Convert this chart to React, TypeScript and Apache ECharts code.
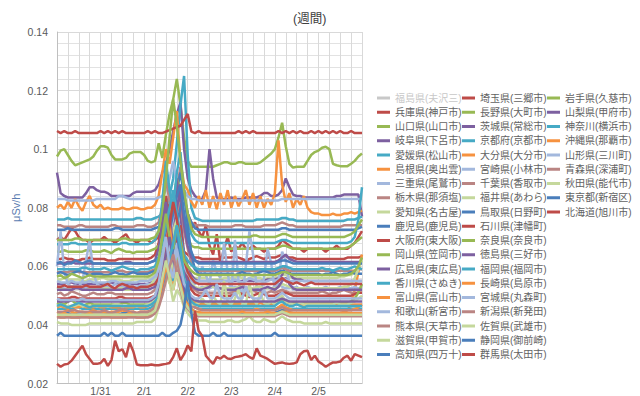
import React, { useEffect, useRef } from 'react';
import * as echarts from 'echarts';

const FONT = "'Liberation Sans', 'Noto Sans CJK JP', sans-serif";

const chartTitle = '(週間)';
const yAxisName = 'μSv/h';
const days = ['1/30', '1/31', '2/1', '2/2', '2/3', '2/4', '2/5', '2/6'];
const hours = ['0:00', '2:00', '4:00', '6:00', '8:00', '10:00', '12:00', '14:00', '16:00', '18:00', '20:00', '22:00'];

const legendCol1 = ['福島県(夫沢三)', '兵庫県(神戸市)', '山口県(山口市)', '岐阜県(下呂市)', '愛媛県(松山市)', '島根県(奥出雲)', '三重県(尾鷲市)', '栃木県(那須塩)', '愛知県(名古屋)', '鹿児島(鹿児島)', '大阪府(東大阪)', '岡山県(笠岡市)', '広島県(東広島)', '香川県(さぬき)', '富山県(富山市)', '和歌山(新宮市)', '熊本県(天草市)', '滋賀県(甲賀市)', '高知県(四万十)'];
const legendCol2 = ['埼玉県(三郷市)', '長野県(大町市)', '茨城県(常総市)', '京都府(京都市)', '大分県(大分市)', '宮崎県(小林市)', '千葉県(香取市)', '福井県(あわら)', '鳥取県(日野町)', '石川県(津幡町)', '奈良県(奈良市)', '徳島県(三好市)', '福岡県(福岡市)', '長崎県(島原市)', '宮城県(丸森町)', '新潟県(新発田)', '佐賀県(武雄市)', '静岡県(御前崎)', '群馬県(太田市)'];
const legendCol3 = ['岩手県(久慈市)', '山梨県(甲府市)', '神奈川(横浜市)', '沖縄県(那覇市)', '山形県(三川町)', '青森県(深浦町)', '秋田県(能代市)', '東京都(新宿区)', '北海道(旭川市)'];
const hiddenSeries = ['福島県(夫沢三)'];

// values in 0.001 μSv/h, every 2 hours from 1/30 0:00 to 2/6 0:00 (one row per day)
const fukushima: number[] = [];
const hyogo = [
  69,70,69,71,73,72,70,69,69,68,69,69,
  69,70,69,69,68,69,70,71,69,69,68,69,
  69,69,68,69,70,74,84,78,72,90,80,74,
  78,73,75,72,70,74,67,64,71,61,66,70,
  65,67,66,68,66,66,67,66,66,65,66,66,
  66,67,69,68,67,66,66,66,65,66,66,66,
  66,66,65,66,66,67,66,66,66,67,68,70,
  72];
const yamaguchi = [
  97.5,99.5,100,98,96,94.5,95,95.5,96,96.5,97.5,99.5,
  101,101,100.5,98,96.5,96.5,96.5,97,98.5,99,99,99,
  98,96,95.5,96,102,97,105,112,117,124,115,104,
  96,94,94,94,94,94,94,94,94.5,95,95.5,95.5,
  95,95,95.5,95.5,95,95,95,95,95.5,96.5,97.5,98.5,
  100,104,109,101,95,93.7,94,94,94,96,98,99,
  99.5,100.5,100.8,100,95,94.5,94.2,94.2,94.2,95,96,97.5,
  98.5];
const gifu = [
  92,85,84,83.5,83.5,83.5,83.5,83.5,85,87,87,86,
  85.5,85.5,85,84,84,84,84,84,84,85,85.5,85.5,
  85.5,85.5,85.5,86,88,92,95,100,106,112,116,100,
  90,86,84,83,83,86,100,90,83.5,83,83,83,
  83.5,83,83,83,83.5,83.5,83.5,83.5,84,85,85,84,
  84,84.5,86,90,87,84.5,84,84,83.5,83.5,83.5,83.5,
  83.5,83.5,83.5,83.5,83.5,84,84,84.5,84.5,84.5,84.5,84.5,
  77];
const ehime = [
  76,76,76,76.5,76,76,76,76,76,76,76,76,
  76,76,76,76,76,76,76,76,76,76,76.5,76.5,
  76,76,76,76.5,77,78,80,84,90,102,115,125,
  98,80,76.5,76,75.5,75.5,75.5,75.5,75.5,75.5,75.5,75.5,
  75.5,75.5,75.5,75.5,75.5,75.5,75.5,76,76,76,76,76,
  76,76,76.5,76.5,76,76,75.5,75.5,75.5,75.5,75.5,75.5,
  75.5,75.5,75.5,75.5,75.5,75.5,75.5,75.5,76,76,76,76.5,
  77];
const shimane = [
  80,81,79.5,82,80,83,80.5,79,82,84,81,80,
  81,79.5,80,79.5,79.5,79.5,80,79.5,79.5,80,80,79.5,
  79.5,80,80,81,84,92,100,95,104,113,96,88,
  86,82,80,84,81,86,80,84,79.5,85,81,86,
  80,84,80.5,83,86,81,85,80,84,80,83,81,
  85,103,88,82,85,80,83,81,84,80,78.5,78,
  78,77.5,77.5,77.5,78,77.5,77.5,78,78,78.5,78,78.5,
  79];
const mie = [
  83,83,83,82.5,82.5,82.5,82.5,82.5,82.5,82.5,82.5,83,
  83,83,83,83,83,84,84,83.5,83,83,83,83,
  83,83,83,83,83.5,84,86,90,96,88,92,86,
  84,83,83,82.5,82.5,82.5,82.5,82.5,82.5,82.5,82.5,82.5,
  82.5,82.5,82.5,82.5,82.5,82.5,82.5,82.5,82.5,82.5,82.5,82.5,
  82.5,82.5,83,83,83,83,83,83,83,83,83,83,
  83,83,83,83,83,83,83,83,83,83,83,83,
  83];
const tochigi = [
  74,74,73.5,73.5,73.5,73.5,74,74,73.5,73.5,73.5,73.5,
  73.5,73.5,73.5,74,74,73.5,73.5,73.5,73.5,73.5,74,74,
  74,73.5,73.5,74,75,80,90,82,78,86,94,84,
  78,75,74,74,74,74,73.5,73.5,73.5,73.5,73.5,73.5,
  73.5,74,74,74,73.5,73.5,73.5,73.5,73.5,74,74,74,
  74,74.5,75,74.5,74,74,73.5,73.5,73.5,73.5,73.5,73.5,
  73.5,73.5,73.5,73.5,73.5,73.5,73.5,74,74,74,74,74,
  74];
const aichi = [
  55.5,55.5,56,55.5,55.5,55.5,55.5,55,55,55.5,55.5,55.5,
  56,56,55.5,55.5,55.5,55.5,55,55,55,55.5,55.5,55.5,
  55.5,56,56,57,62,70,76,66,61,64,60,58,
  57,56.5,56,56,56,56,55.5,55.5,55.5,55.5,56,56,
  56,56,56.5,56,55.5,56,56.5,56,56,55.5,56,56,
  56,56.5,57,57,56.5,56,56,56,56,56,56,56,
  56,56,56,56,56,56,56.5,56.5,57,57,58,60,
  63];
const kagoshima = [
  72.5,72.5,72.5,73,72.5,72.5,72.5,72.5,72.5,72.5,72.5,72.5,
  72.5,72.5,72.5,72.5,73,73,72.5,72.5,72.5,72.5,72.5,72.5,
  72.5,72.5,72.5,73,73.5,74,75,77,80,86,92,84,
  78,75,73,72.5,72.5,72.5,72.5,72.5,72.5,72.5,72.5,72.5,
  72.5,72.5,72.5,72.5,72.5,72.5,72.5,72.5,72.5,72.5,72.5,72.5,
  72.5,72.5,73,73,72.5,72.5,72.5,72.5,72.5,72.5,72.5,72.5,
  72.5,72.5,72.5,72.5,72.5,72.5,72.5,72.5,72.5,72.5,72.5,73,
  73.5];
const osaka = [
  62.5,62.5,63,62.5,62.5,62,62,62.5,62.5,63,62.5,62.5,
  62.5,62.5,62,62,62,62.5,62.5,62.5,62.5,62.5,62.5,62.5,
  62.5,62.5,63,64,68,76,84,72,68,78,70,65,
  64,63,63,63,62.5,62.5,62.5,62.5,62.5,62.5,63,63,
  63,63.5,63,62.5,62,62.5,63,63.5,63,62.5,63,63,
  63,63.5,64,63.5,63,63,62.5,62.5,62.5,62.5,62.5,62.5,
  62.5,62.5,62.5,62.5,62.5,62.5,62.5,62.5,63,63,63,63,
  63.5];
const okayama = [
  65,65,65.5,65,65,65,65,65,65.5,65.5,65,65,
  65,65.5,65,64.5,65.5,66,65.5,65,65,64.5,65,65,
  65,65,65.5,66,67,69,72,76,82,90,86,76,
  70,67,66.5,66.5,66,66,66,66,66,66,66,66,
  66,66,66,66,66,66,66,66,66,66,66,66,
  66,66.5,67,67,66.5,66,66,66,66,66,66,66,
  66,66,66,66,66,66,66,66,66.5,67,68,69,
  70];
const hiroshima = [
  54,54,54,54.5,54.5,54,54,54,54,54,54,54,
  54,54,54.5,54.5,54,54,54,54,54,54,54,54,
  54,54,54.5,55,60,70,80,66,72,90,78,64,
  60,57,55.5,55,55,55,55,55,55,55,55,55,
  55,55,55,55,55,55,55,55,55,55,55.5,55.5,
  55.5,56,57,60,58,56,55.5,55.5,55,55,55,55,
  55,55,55,55,55,55,55,55,55,55,55,55,
  55];
const kagawa = [
  67.5,67.5,67.5,67.5,68,68,67.5,67.5,67.5,67.5,67.5,67.5,
  67.5,67.5,67.5,67.5,67.5,67.5,68,68,67.5,67.5,67.5,67.5,
  67.5,67.5,68,69,72,82,96,86,80,92,99,84,
  76,71,69,68,68,68,68,68,68,68,68,68,
  68,68,68,68,68,68,68,68,68,68,68,68,
  68,68.5,69,69,68.5,68,68,68,68,68,68,68,
  68,68,68,68,68,68,68,68,68,68.5,70,76,
  87];
const toyama = [
  43,42.5,42.5,43,42.5,42.5,42.5,43,43,42.5,42.5,42.5,
  42.5,43,43,42.5,42.5,42.5,42.5,42.5,43,43,42.5,42.5,
  42.5,43,43.5,45,50,60,70,58,52,62,55,48,
  46,45,44.5,44.5,44,44,44,44,44,44,44,44,
  44,44,44,44,44,44,44,44,44,44,44,44,
  44,44.5,45,45,44.5,44,44,44,44,44,44,44,
  44,44,44,44,44,44,44,44.5,45,47,52,58,
  64];
const wakayama = [
  60,72,58,54,53,53.5,53,55,62,69,58,54,
  53,53.5,53,53,54,53.5,53,53,53.5,53,53,53.5,
  53.5,54,54,55,58,66,60,56,76,80,70,62,
  58,55,54,55,60,57,54,62,58,56,68,58,
  50,69,55,49,60,72,64,53,50,56,66,61,
  52,55,65,62,54,52,53,52,52,53,52,52,
  52,52,52.5,52,52,52,52.5,52,52,52,52,52.5,
  53];
const kumamoto = [
  58,58,58,58,58.5,58.5,58,58,58,58,58,58,
  58,58,58,58,58,58.5,58.5,58,58,58,58,58,
  58,58,58.5,59,60,62,65,68,72,78,82,72,
  66,61,59,58.5,58.5,58.5,58.5,58.5,58.5,58.5,58.5,58.5,
  58.5,58.5,58.5,58.5,58.5,58.5,58.5,58.5,58.5,58.5,58.5,58.5,
  58.5,59,59.5,59,58.5,58.5,58.5,58.5,58.5,58.5,58.5,58.5,
  58.5,58.5,58.5,58.5,58.5,58.5,58.5,58.5,58.5,58.5,58.5,59,
  59];
const shiga = [
  41,40.5,40.5,40.5,40,40,40,40,40,40.5,40.5,40.5,
  40.5,40.5,40.5,40.5,40.5,40.5,40.5,40.5,40.5,40.5,41,41,
  41,41,41,42,46,54,62,55,48,52,50,46,
  44,42.5,42,41.5,41.5,41.5,41,41,41,41,41,41.5,
  41.5,41,41,41.5,42,43,41.5,41,41,42,41.5,41,
  41,42,43,42,41.5,41,41,41,40.5,40.5,40.5,40.5,
  40.5,40.5,41,40.5,40.5,40.5,40.5,40.5,40.5,40.5,40.5,40.5,
  40.5];
const kochi = [
  57.5,58,57.5,57,57.5,58,58.5,58,57.5,57,57.5,57.5,
  57.5,57,57,57.5,58,57.5,57.5,57,57.5,58,57.5,57.5,
  57.5,57.5,58,58.5,59,60,62,64,68,74,80,86,
  74,64,59,57.5,57.5,57.5,57.5,57.5,57.5,57.5,57.5,57.5,
  57.5,57,57.5,58,57.5,57.5,57,57.5,58,58.5,58,57.5,
  57.5,58,58.5,58,57.5,57.5,57.5,57.5,57.5,57.5,57.5,57.5,
  57.5,57,57.5,57.5,58,57.5,57,57.5,57.5,58,57.5,57.5,
  57.5];
const saitama = [
  106.2,105.5,106.2,105.5,105.5,106.2,105.5,105.5,105.5,105.5,105.5,105.5,
  106.2,105.5,106.2,105.5,106.2,105.5,106.2,105.5,105.5,105.5,105.5,105.5,
  105.5,106.2,105.5,106.2,105.5,105.5,106,106.5,107,107.5,108,110,
  112,106,105.5,106.2,105.5,105.5,105.5,105.5,105.5,105.5,105.5,105.5,
  105.5,105.5,106.2,105.5,106.2,105.5,106.2,105.5,105.5,105.5,105.5,105.5,
  105.5,106.2,105.5,106.2,105.5,106.2,105.5,106.2,105.5,105.5,106.2,105.5,
  106.2,105.5,106.2,105.5,106.2,105.5,106.2,105.5,105.5,106.2,105.5,105.5,
  105.5];
const nagano = [
  69,69,69,69,69,69.5,69.5,69,69,69,69,69,
  69,69,69,69,69,69,69.5,69.5,69,69,69,69,
  69,69,69.5,70,72,78,90,104,117,108,96,86,
  78,73,71,70.5,70,70,70,70,70,70,70,70,
  70,70,70,70,70,70,70.5,70.5,70,70,70,70,
  70,70.5,71,71,70.5,70,70,70,70,70,70,70,
  70,70,70,70,70,70,70,70,70.5,71,72,74,
  76];
const ibaraki = [
  61,61,61,61.5,61.5,61,61,61,61,61,61,61,
  61,61,61,61,61,61,61,61.5,61.5,61,61,61,
  61,61,61.5,62,66,74,82,74,70,80,86,74,
  67,63,62,61.5,61.5,61.5,61.5,61.5,61.5,61.5,61.5,61.5,
  61.5,61.5,61.5,61.5,61.5,61.5,61.5,61.5,61.5,61.5,61.5,61.5,
  61.5,62,63,64,62.5,62,61.5,61.5,61.5,61.5,61.5,61.5,
  61.5,61.5,61.5,61.5,61.5,61.5,61.5,61.5,61.5,61.5,61.5,61.5,
  61.5];
const kyoto = [
  45.5,45.5,45.5,45.5,45.5,46,46,45.5,45.5,45.5,45.5,45.5,
  45.5,45.5,45.5,45.5,45.5,45.5,45.5,45.5,45.5,45.5,45.5,45.5,
  45.5,45.5,46,47,52,62,72,60,55,64,58,50,
  48,46.5,46,45.5,45.5,45.5,45.5,45.5,45.5,45.5,45.5,45.5,
  45.5,45.5,45.5,45.5,45.5,45.5,45.5,45.5,45.5,45.5,45.5,45.5,
  45.5,46,46.5,46,45.5,45.5,45.5,45.5,45.5,45.5,45.5,45.5,
  45.5,45.5,45.5,45.5,45.5,45.5,45.5,45.5,45.5,45.5,45.5,45.5,
  45.5];
const oita = [
  44.5,44,44.5,45,44.5,44,44.5,44.5,44,44.5,45,44.5,
  44.5,44.5,44,44.5,44.5,44.5,45,44.5,44.5,44.5,44,44.5,
  44.5,44.5,45,46,50,58,68,76,62,70,58,52,
  49,47,46,45.5,45,45,45,45,45,45,45,45,
  45,45,45,45,45,45,45,45.5,45,45,45,45,
  45,46,47,46,45.5,45,45,45,45,45,45,45,
  45,45,45,45,45,45,45,45,45,45,45.5,46,
  47];
const miyazaki = [
  52.5,53,52.5,52,52.5,53,52.5,52.5,53,52.5,52.5,52,
  52.5,52.5,53,52.5,52,52.5,52.5,53,52.5,52.5,52.5,52.5,
  52.5,53,53.5,55,60,68,74,64,58,66,60,56,
  54,53,52.5,52.5,53,52.5,52.5,53,52.5,52.5,53,52.5,
  52.5,53,52.5,52.5,53,52.5,52,52.5,53,52.5,52.5,52.5,
  53,54,53,52.5,52.5,53,52.5,52.5,52.5,53,52.5,52.5,
  52.5,52.5,53,52.5,52.5,52.5,53,52.5,52.5,52.5,53,52.5,
  52.5];
const chiba = [
  50.5,51,50,50.5,51.5,51,50.5,50,50,50.5,51,50.5,
  50.5,50.5,51,51,50.5,50.5,50.5,50.5,50.5,50.5,50.5,50.5,
  50.5,50.5,51,52,54,57,60,64,70,76,72,62,
  56,53,52,51,51,51,51,51,51,51,51,51,
  51,51.5,51,50.5,51,51.5,52,51,50.5,51,51,51.5,
  51,51.5,52,51.5,51,51,51,51,51,51,51,51,
  51,51.5,51,50.5,51,51,51.5,52,51.5,51,51,51,
  51];
const fukui = [
  52,52.5,52,52,52.5,53,52.5,52,52,52.5,52.5,52,
  52,52.5,52.5,52,52,52.5,52.5,52,52,52,52.5,52.5,
  52.5,53,54,56,62,70,66,62,72,76,66,58,
  55,54,53,52.5,52.5,53,53.5,53,52.5,52.5,52.5,52.5,
  52.5,52.5,53,53,52.5,52.5,52.5,53,53,52.5,52.5,52.5,
  52.5,53,54,53.5,53,52.5,52.5,52.5,52.5,52.5,52.5,52.5,
  52.5,52.5,52.5,52.5,52.5,52.5,52.5,53,53,54,56,59,
  62];
const tottori = [
  61,61.5,60.5,61,61,62,61.5,61,61.5,62,61,61,
  61,61,61,61,61,61,61,61,61,61,61,61,
  61,61,61.5,62,63,65,68,72,78,84,88,78,
  70,65,62,61,61,61,61,61,61,61,61,61,
  61,61,61,61,61,61,61,61,61,61,61,61,
  61,61.5,62,62,61.5,61,61,61,61,61,61,61,
  61,61,61,61,61,61,61,61,61,61,61,61,
  61];
const ishikawa = [
  49,49,49,49,49.5,49.5,49,49,49,49,49,49,
  49,49,49,49,49,49.5,49.5,49,49,49,49,49,
  49,49,49.5,50,53,60,68,62,58,70,74,62,
  56,52,50.5,50,50,50,50,50,50,50,50,50,
  50,50.5,51,50.5,50,49.5,50,50.5,51,50.5,50,50,
  50,50.5,51,51,50.5,50,50,50,50,50,50,50,
  50,50,50,50,50,50,50,50,50,50,50.5,51,
  51];
const nara = [
  47,47.5,47,48,48.5,47.5,47,46.5,47,47.5,47,47,
  47,47,47,47,47,47,47.5,47.5,47,47,47,47,
  47,47,47.5,48,51,56,62,68,60,64,58,52,
  50,48.5,48,47.5,47.5,47.5,47.5,47.5,47.5,47.5,47.5,47.5,
  47.5,47.5,47.5,47.5,47.5,47.5,47.5,47.5,47.5,47.5,47.5,47.5,
  47.5,48,48.5,48,47.5,47.5,47.5,47.5,47.5,47.5,47.5,47.5,
  47.5,47.5,47.5,47.5,47.5,47.5,47.5,47.5,47.5,48,49,51,
  54];
const tokushima = [
  52,52,52,52,52,52.5,52.5,52,52,52,52,52,
  52,52,52,52,52,52,52,52.5,52.5,52,52,52,
  52,52,52.5,53,56,62,70,78,66,72,64,58,
  55,53.5,52.5,52,52,52.5,53,54,53,52.5,52,52,
  52,52,52.5,53,52.5,52,52,52,52,52.5,53,52.5,
  52,53,55,56,54,52.5,52,52,52,52,52,52,
  52,52,52,52,52,52,52,52,52,52,52,52,
  52];
const fukuoka = [
  59,59,59,59,59,59,59,59.5,59.5,59,59,59,
  59,59.5,59,58.5,59,59.5,60,59.5,59,59,58.5,59,
  59,59,59.5,60,63,68,74,80,86,78,70,64,
  62,60.5,59.5,59,59,59,59,59,59,59,59,59,
  59,59,59,59,59,59,59,59,59,59,59,59,
  59,59.5,60,60,59.5,59,59,59,59,59,59,59,
  59,59.5,59,59,58.5,59,59.5,59,59,59.5,60,59.5,
  59];
const nagasaki = [
  46,46.5,46,46,46.5,46,46,46.5,46,46,46,46.5,
  46,46,46.5,46,46,46,46.5,46,46,46,46.5,46,
  46,46.5,47,48,52,60,68,74,64,60,56,52,
  50,48,47.5,47,47,47,47,47,47,47,47,47,
  47,47,47,47.5,47,47,47,47,47.5,47,47,47,
  47,48,49,48,47.5,47,47,47,47,47,47,47,
  47,47,47,47,47,47,47,47,47,47,47,47,
  47];
const miyagi = [
  55,54.5,54.5,54.5,55,54.5,54.5,54.5,54.5,55,54.5,54.5,
  54.5,54.5,54.5,55,55,54.5,54.5,54.5,54.5,54.5,54.5,55,
  55,55,55.5,56.5,59,64,70,66,62,68,64,60,
  57.5,56,55,55,55,55,55,55,55,55,55,55,
  55,55.5,55,54.5,55,56,55.5,55,55,54.5,55,55.5,
  55,55.5,56,55.5,55,55,55,55,55,55,55,55,
  55,55,55,55,55,55,55,55,55,55,55,55,
  55];
const niigata = [
  44.5,44.5,44.5,44.5,45,45,44.5,44.5,44.5,44.5,44.5,44.5,
  44.5,45,44.5,44,44.5,45,45.5,45,44.5,44.5,44,44.5,
  44.5,44.5,45,46,49,54,60,65,58,62,56,50,
  48,46.5,46,45.5,45,45,45,45,45,45,45,45,
  45,45,45,45,45,45,45,45,45,45,45,45,
  45,45.5,46,45.5,45,45,45,45,45,45,45,45,
  45,45,45,45,45,45,45,45,45,45,45,45,
  45];
const saga = [
  46.5,47,46.5,46.5,46.5,46.5,47,46.5,46.5,46.5,46.5,46.5,
  46.5,46.5,46.5,46.5,47,47,46.5,46.5,46.5,46.5,46.5,46.5,
  46.5,47,47.5,49,54,62,58,54,64,58,52,50,
  48,47,47,47.5,49,47.5,47,50,48,47,55,48,
  47,49,52,47.5,47,54,49,47,51,47.5,47,48,
  47,49,50,48,47.5,47,47,47.5,47,47,47,47,
  47,47,47,47,47,47.5,47,47,47,47.5,48,49,
  50];
const shizuoka = [
  43.5,43.5,43.5,44,43.5,43.5,43.5,43.5,43.5,43.5,43.5,43.5,
  43.5,43.5,43.5,43.5,43.5,43.5,44,44,43.5,43.5,43.5,43.5,
  43.5,43.5,44,45,48,52,56,60,66,72,62,52,
  47,45.5,44.5,44,44,44,44,44,44,44,44,44,
  44,44,44,44,44,44,44,44,44,44,44,44,
  44,44.5,45,44.5,44,44,44,44,44,44,44,44,
  44,44,44,44,44,44,44,44,44,44,44,44,
  44];
const gunma = [
  53,53,53.5,53,53,53,53,53,53.5,53,53,53,
  53,53.5,54,53,52.5,53.5,54,53.5,53,53,52.5,53,
  53,53,53.5,54,56,60,66,74,82,76,68,62,
  58,56,54.5,54,54,54,54,54,54,54,54,54,
  54,54,54,54,54,54,54,54,54,54,54,54,
  54,55,56,55,54.5,54,54.5,54,53.5,54,54.5,54,
  54,54,54,54,54,54,54,54,54,54,54,54,
  54];
const iwate = [
  56.5,57,56,56.5,57.5,57,56.5,56,56.5,57,56.5,56.5,
  56.5,56.5,56.5,56.5,56.5,56.5,56.5,56.5,56.5,56.5,56.5,56.5,
  56.5,56.5,57,58,62,70,78,70,66,74,68,62,
  60,58.5,57.5,57,57,57,57,57,57,57,57,57,
  57,57,57,57,57,57,57,57,57,57,57,57,
  57,57.5,58,58,57.5,57,57,57,57,57,57,57,
  57,57,57,57,57,57,57,57,57,57.5,58.5,60,
  63];
const yamanashi = [
  48,48,48,48,48.5,48.5,48,48,48,48,48,48,
  48,48,48,48,48,48,48,48,48,48,48,48,
  48,48,48.5,49.5,52,57,64,70,62,58,56,52,
  50,49,48.5,48,48,48,48,48,48,48,48,48,
  48,48,48,48,48,48,48,48,48,48,48,48,
  48,48.5,49,48.5,48,48,48,48,48,48,48,48,
  48,48,48,48,48,48,48,48,48,48,48,48,
  48];
const kanagawa = [
  46.5,47,46.5,46,46.5,47,47.5,47,46.5,46,46.5,46.5,
  46.5,46.5,46.5,46.5,46.5,46.5,46.5,46.5,46.5,46.5,46.5,46.5,
  46.5,46.5,47,48,50,54,58,62,68,74,66,56,
  50,48,47,46.5,46.5,46.5,46.5,46.5,46.5,46.5,46.5,46.5,
  46.5,46.5,46.5,46.5,46.5,46.5,46.5,46.5,46.5,46.5,46.5,46.5,
  46.5,47.5,48,47,46.5,46.5,47,46.5,46,46.5,46.5,46.5,
  46.5,46.5,46.5,46.5,46.5,46.5,46.5,46.5,46.5,46.5,46.5,46.5,
  46.5];
const okinawa = [
  43.5,43.5,44,43.5,43.5,43.5,43,43.5,43.5,44,43.5,43.5,
  43.5,43.5,43.5,43.5,43.5,43.5,43.5,43.5,44,43.5,43.5,43.5,
  43.5,43.5,44,45,48,54,60,56,52,58,54,49,
  47,45.5,44.5,44,44,44,44,44,44,44,44,44,
  44,44,44,44.5,44,44,44,44,44,44,44.5,44,
  44,44,44.5,44.5,44,44,44,44,44,44,44,44,
  44,44,44,44,44,44,44,44,44,44,44,44,
  44];
const yamagata = [
  49,48.5,48.5,48.5,48.5,48.5,48.5,49,48.5,48.5,48.5,48.5,
  48.5,48.5,48.5,48.5,48.5,48.5,48.5,48.5,48.5,48.5,48.5,48.5,
  48.5,48.5,49,50,54,62,70,60,56,66,60,54,
  52,50,49,49,50,52,49.5,49,54,50,49,49,
  49,51,49,49,53,50,49,49,49,52,49,49,
  49,50,51,50,49,49,49,49,49,49,49,49,
  49,49,49,49,49,49,49,49,49,49,49,49,
  49];
const aomori = [
  42.5,42.5,42.5,42.5,42.5,42.5,42.5,42.5,42.5,42.5,42.5,42.5,
  42.5,42.5,42.5,42.5,42.5,42.5,42.5,42.5,42.5,42.5,42.5,42.5,
  42.5,42.5,43,44,46,50,55,60,64,58,52,47,
  45.5,44,43.5,43,43,43,43,43,43,43,43,43,
  43,43,43,43,43,43,43,43,43,43,43,43,
  43,43.5,44,43.5,43,43,43,43,43,43,43,43,
  43,43,43,43,43,43,43,43,43,43,43,43,
  43];
const akita = [
  43.5,43.5,43.5,43.5,43.5,43.5,43.5,43.5,43.5,43.5,43.5,43.5,
  43.5,43.5,43.5,43.5,43.5,43.5,43.5,43.5,43.5,43.5,43.5,43.5,
  43.5,43.5,44,45,49,56,62,56,52,58,53,48,
  46,44.5,44,43.5,43.5,43.5,43.5,43.5,43.5,43.5,43.5,43.5,
  43.5,43.5,43.5,43.5,43.5,43.5,43.5,43.5,43.5,43.5,43.5,43.5,
  43.5,44,44.5,44,43.5,43.5,43.5,43.5,43.5,43.5,43.5,43.5,
  43.5,43.5,43.5,43.5,43.5,43.5,43.5,43.5,43.5,43.5,43.5,43.5,
  43.5];
const tokyo = [
  36.3,37.3,36.3,36.3,36.3,36.3,36.3,36.3,36.3,36.3,36.3,36.3,
  36.3,37.3,36.3,37.3,36.3,36.3,37.3,36.3,36.3,36.3,36.3,36.3,
  36.3,36.3,36.3,36.3,36.3,37.3,36.3,36.3,37.3,38,40,46,
  55,44,37.3,36.3,36.3,36.3,36.3,37.3,36.3,36.3,37.3,36.3,
  36.3,36.3,36.3,36.3,36.3,36.3,36.3,36.3,36.3,36.3,36.3,36.3,
  37.3,36.3,36.3,36.3,36.3,36.3,36.3,36.3,36.3,36.3,36.3,36.3,
  36.3,36.3,36.3,36.3,36.3,36.3,36.3,36.3,36.3,36.3,36.3,36.3,
  36.3];
const hokkaido = [
  26.7,25.7,26.5,26.7,27.8,29.5,31.2,32.9,30,28.4,26.7,26.7,
  27,28.4,26,28,34.6,31,31.7,29,34,31,26.5,26.2,
  26.2,26.2,26.5,26.2,26.2,26.5,26.7,27,29,32,28,30,
  33,31,44.8,38,36.2,29.5,28,26.7,29,28.5,29.5,28.5,
  28.4,29,29.2,29.5,30,29,28.4,32,29.5,29,28.4,27.5,
  26.7,27,27.2,26.8,26.7,26.8,27.2,30,31,31.2,28,29.5,
  27.5,26.7,25.7,26.5,27.2,27.2,27.5,28.8,29.5,27.8,30,29.5,
  29];

const seriesValues = [
  fukushima, hyogo, yamaguchi, gifu, ehime, shimane, mie, tochigi, aichi, kagoshima,
  osaka, okayama, hiroshima, kagawa, toyama, wakayama, kumamoto, shiga, kochi,
  saitama, nagano, ibaraki, kyoto, oita, miyazaki, chiba, fukui, tottori, ishikawa,
  nara, tokushima, fukuoka, nagasaki, miyagi, niigata, saga, shizuoka, gunma,
  iwate, yamanashi, kanagawa, okinawa, yamagata, aomori, akita, tokyo, hokkaido,
];

const palette = ['#4A7EBB', '#BE4B48', '#98B954', '#7D60A0', '#46AAC5', '#F69240', '#A3B8DD', '#BA8583', '#C5D89C'];

export default function App() {
  const ref = useRef<HTMLDivElement>(null);

  useEffect(() => {
    document.body.style.margin = '0';
    if (!ref.current) return;
    const chart = echarts.init(ref.current, undefined, { renderer: 'svg' });

    const categories: string[] = [];
    for (let d = 0; d < days.length - 1; d++) {
      for (let h = 0; h < hours.length; h++) categories.push(days[d] + ' ' + hours[h]);
    }
    categories.push(days[days.length - 1] + ' ' + hours[0]);

    const names = [...legendCol1, ...legendCol2, ...legendCol3];
    const selected: Record<string, boolean> = {};
    hiddenSeries.forEach((n) => (selected[n] = false));

    const legendCols = [legendCol1, legendCol2, legendCol3];
    const legendLeft = [377, 462, 547];

    chart.setOption({
      animation: false,
      textStyle: { fontFamily: FONT },
      title: {
        text: chartTitle,
        left: 288,
        top: 8,
        textStyle: { fontSize: 12.5, fontWeight: 'normal', color: '#404040', fontFamily: FONT },
      },
      grid: { left: 57, right: 278, top: 32, bottom: 11, containLabel: false },
      xAxis: {
        type: 'category',
        data: categories,
        boundaryGap: false,
        axisLine: { lineStyle: { color: '#bfbfbf' } },
        axisTick: { show: false },
        axisLabel: {
          interval: (i: number) => i % 12 === 0 && i > 0 && i < categories.length - 1,
          formatter: (v: string) => v.split(' ')[0],
          color: '#595959',
          fontSize: 10.5,
          margin: 2,
          fontFamily: FONT,
        },
        splitLine: { show: true, interval: (i: number) => i % 3 === 0, lineStyle: { color: '#d9d9d9', width: 1 } },
      },
      yAxis: {
        type: 'value',
        min: 0.02,
        max: 0.14,
        interval: 0.02,
        name: yAxisName,
        nameLocation: 'middle',
        nameGap: 36,
        nameTextStyle: { color: '#5B7DB1', fontSize: 11, fontFamily: FONT },
        axisLine: { show: true, lineStyle: { color: '#bfbfbf' } },
        axisTick: { show: false },
        axisLabel: { color: '#595959', fontSize: 10.5, margin: 9, fontFamily: FONT },
        splitLine: { show: true, lineStyle: { color: '#d9d9d9', width: 1 } },
        minorTick: { show: false, splitNumber: 5 },
        minorSplitLine: { show: true, lineStyle: { color: '#e2e2e2', width: 1 } },
      },
      legend: legendCols.map((col, c) => ({
        type: 'plain',
        orient: 'vertical',
        left: legendLeft[c],
        top: 91,
        padding: 0,
        itemGap: 0.25,
        itemWidth: 13,
        itemHeight: 3,
        icon: 'rect',
        data: col,
        selected,
        inactiveColor: '#c8c8c8',
        textStyle: { fontSize: 10, lineHeight: 14, color: '#626262', fontFamily: FONT },
      })),
      series: names.map((name, i) => {
        const color = palette[i % palette.length];
        return {
          name,
          type: 'line',
          data: seriesValues[i].map((v) => v / 1000),
          symbol: 'none',
          showSymbol: false,
          lineStyle: { width: 2.5, color },
          itemStyle: { color },
          emphasis: { disabled: true },
        };
      }),
    });

    return () => chart.dispose();
  }, []);

  return <div ref={ref} style={{ width: 640, height: 396 }} />;
}
